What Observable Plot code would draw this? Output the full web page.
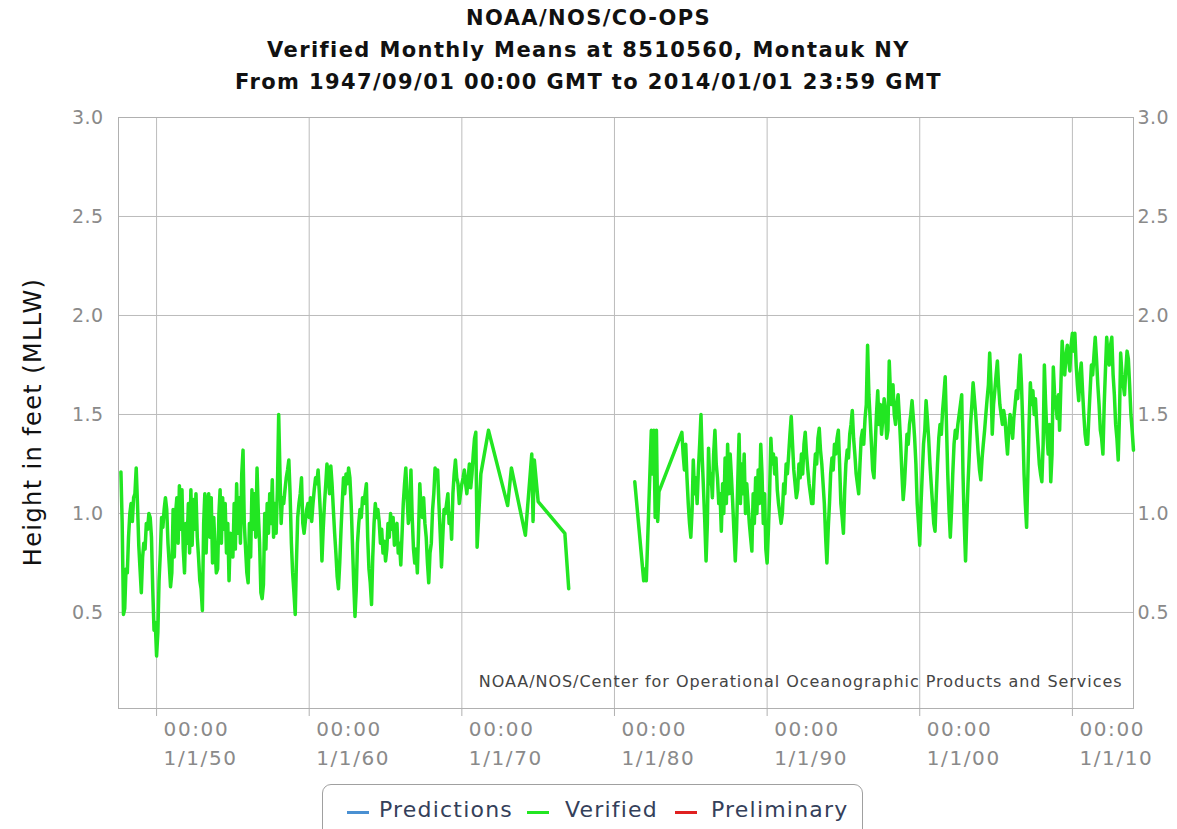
<!DOCTYPE html>
<html>
<head>
<meta charset="utf-8">
<script src="https://cdn.jsdelivr.net/npm/d3@7"></script>
<script src="https://cdn.jsdelivr.net/npm/@observablehq/plot@0.6"></script>
<style>
  body { margin: 0; background: #fff; font-family: "DejaVu Sans", sans-serif; }
  #wrap { position: relative; width: 1177px; height: 829px; overflow: hidden; background: #fff; }
  #title { position: absolute; left: 0; top: 2px; width: 1177px; text-align: center; font-weight: bold; font-size: 21px; letter-spacing: 1.4px; line-height: 32px; color: #111; }
  #chart { position: absolute; left: 0; top: 100px; }
  #legend { position: absolute; left: 322px; top: 784px; width: 541px; height: 56px; border: 1.5px solid #a0a0a0; border-radius: 9px; box-sizing: border-box; background: #fff; }
  .item { position: absolute; top: 12px; font-size: 22px; letter-spacing: 1.2px; color: #34405a; white-space: nowrap; }
  .sw { position: absolute; top: 26px; width: 22px; height: 3px; }
</style>
</head>
<body>
<div id="wrap">
  <div id="title">NOAA/NOS/CO-OPS<br>Verified Monthly Means at 8510560, Montauk NY<br>From 1947/09/01 00:00 GMT to 2014/01/01 23:59 GMT</div>
  <div id="chart"></div>
  <div id="legend"></div>
</div>
<script>
// ---- Data (feet, MLLW) ----
// Dense monthly record, starting 1947-09
const seriesAStart = [1947, 8]; // year, month index (0 = Jan)
const seriesAValues = [
  1.21, 0.95, 0.49, 0.52,
  0.72, 0.70, 0.88, 1.00, 1.05, 0.96, 1.08, 1.10, 1.23, 1.05, 0.84, 0.72,
  0.60, 0.78, 0.85, 0.82, 0.95, 0.92, 1.00, 0.98, 0.88, 0.62, 0.41, 0.45,
  0.28, 0.40, 0.66, 0.80, 0.98, 0.93, 1.02, 1.08, 1.02, 0.85, 0.74, 0.63,
  0.70, 1.02, 0.78, 1.00, 1.08, 0.85, 1.14, 0.92, 1.12, 0.82, 0.70, 0.95,
  0.85, 1.05, 0.80, 1.12, 0.84, 1.07, 0.92, 1.10, 0.88, 0.78, 0.66, 0.62,
  0.51, 0.95, 1.10, 0.80, 1.05, 1.10, 0.88, 1.08, 0.75, 0.98, 0.82, 0.70,
  0.72, 1.00, 1.12, 0.85, 1.08, 0.92, 1.05, 0.80, 0.95, 0.66, 0.90, 0.85,
  0.78, 1.05, 0.82, 1.15, 0.90, 1.08, 0.85, 1.20, 1.32, 0.95, 0.82, 0.70,
  0.65, 0.95, 0.78, 1.12, 0.92, 1.10, 0.88, 1.23, 1.00, 0.85, 0.60, 0.57,
  0.64, 1.00, 0.82, 1.05, 0.90, 1.10, 0.95, 1.17, 0.88, 1.05, 0.90, 1.12,
  1.50, 1.20, 0.95, 1.08, 1.05, 1.12, 1.18, 1.22, 1.27, 1.10, 0.85, 0.70,
  0.60, 0.49, 0.75, 0.98, 1.05, 1.10, 1.18, 0.95, 0.90, 0.96, 1.02, 1.05,
  0.98, 1.08, 0.96, 1.05, 1.12, 1.18, 1.15, 1.22, 1.10, 0.98, 0.76, 0.92,
  1.05, 1.15, 1.25, 1.20, 1.10, 1.24, 1.15, 1.02, 0.90, 0.80, 0.68, 0.62,
  0.75, 0.92, 1.05, 1.18, 1.10, 1.20, 1.15, 1.23, 1.18, 1.05, 0.85, 0.65,
  0.48, 0.62, 0.85, 0.95, 1.02, 0.98, 1.08, 1.05, 1.10, 1.15, 0.88, 0.72,
  0.65, 0.54, 0.78, 0.95, 1.05, 0.98, 1.02, 0.96, 0.85, 0.92, 0.80, 0.86,
  0.76, 0.82, 0.95, 0.88, 1.00, 0.92, 0.98, 0.84, 0.90, 0.95, 0.80, 0.85,
  0.74, 0.90, 1.05, 1.15, 1.23, 1.08, 0.95, 1.00, 1.22, 0.98, 0.82, 0.75,
  0.82, 0.70, 0.90, 1.15, 1.02, 0.98, 1.08, 0.95, 0.88, 0.75, 0.65, 0.80,
  0.85, 1.02, 1.10, 1.23, 1.18, 1.22, 1.05, 0.90, 0.73, 0.88, 1.02, 1.00,
  1.05, 1.10, 0.95, 1.00, 0.87, 1.10, 1.20, 1.27, 1.18, 1.15, 1.05, 1.10,
  1.15, 1.18, 1.22, 1.15, 1.10, 1.18, 1.25, 1.13, 1.20, 1.30, 1.38, 1.41
];
// Sparse months 1971-1984 (null = no data, line breaks)
const sparseMonths = ["1971-01","1971-04","1971-10","1973-01","1973-04","1974-03","1974-08","1974-09","1974-10","1975-01","1976-10","1977-01","1979-01","1981-05","1981-12","1982-01","1982-02","1982-06","1982-07","1982-08","1982-09","1982-10","1982-11","1982-12","1984-06"];
const sparseValues = [0.83, 1.20, 1.42, 1.04, 1.23, 0.89, 1.30, 0.96, 1.27, 1.06, 0.90, 0.62, null, 1.16, 0.66, 0.72, 0.66, 1.42, 1.20, 1.42, 0.98, 1.42, 0.96, 1.11, 1.41];
// Dense monthly record, starting 1984-07
const seriesBStart = [1984, 6];
const seriesBValues = [
  1.30, 1.22, 1.35, 1.18, 1.05, 0.95,
  0.88, 1.02, 1.27, 1.10, 1.18, 1.05, 1.22, 1.35, 1.50, 1.28, 1.12, 0.96,
  0.76, 0.95, 1.33, 1.15, 1.20, 1.08, 1.30, 1.42, 1.25, 1.18, 1.05, 1.10,
  0.91, 1.15, 1.00, 1.28, 1.05, 1.35, 1.10, 1.30, 1.18, 1.05, 0.90, 0.76,
  0.92, 1.18, 1.40, 1.05, 1.25, 1.10, 1.30, 1.00, 1.15, 1.05, 0.95, 0.88,
  0.81, 1.10, 0.95, 1.18, 1.00, 1.22, 1.05, 1.35, 1.20, 0.95, 1.10, 0.82,
  0.75, 0.92, 1.10, 1.38, 1.25, 1.30, 1.20, 1.28, 1.12, 1.05, 1.00, 0.95,
  1.00, 1.15, 1.10, 1.25, 1.20, 1.30, 1.40, 1.49, 1.35, 1.22, 1.15, 1.08,
  1.12, 1.25, 1.18, 1.30, 1.20, 1.35, 1.41, 1.30, 1.22, 1.15, 1.10, 1.05,
  1.05, 1.20, 1.30, 1.25, 1.38, 1.43, 1.32, 1.25, 1.15, 1.05, 0.88, 0.75,
  0.92, 1.05, 1.20, 1.28, 1.22, 1.35, 1.30, 1.38, 1.42, 1.25, 1.05, 0.98,
  0.90, 1.12, 1.25, 1.32, 1.28, 1.40, 1.45, 1.52, 1.38, 1.30, 1.20, 1.15,
  1.10, 1.25, 1.38, 1.42, 1.35, 1.48, 1.55, 1.85, 1.60, 1.48, 1.35, 1.22,
  1.18, 1.35, 1.50, 1.62, 1.45, 1.55, 1.40, 1.48, 1.58, 1.52, 1.38, 1.42,
  1.77, 1.60, 1.55, 1.65, 1.50, 1.45, 1.55, 1.60, 1.48, 1.35, 1.20, 1.07,
  1.15, 1.28, 1.40, 1.35, 1.45, 1.50, 1.57, 1.48, 1.38, 1.25, 1.05, 0.95,
  0.84, 1.05, 1.20, 1.35, 1.42, 1.57, 1.48, 1.38, 1.25, 1.15, 1.05, 0.95,
  0.91, 1.10, 1.25, 1.38, 1.45, 1.40, 1.52, 1.60, 1.69, 1.45, 1.20, 1.02,
  0.88, 1.02, 1.20, 1.35, 1.42, 1.38, 1.45, 1.50, 1.55, 1.60, 1.20, 0.95,
  0.76, 0.98, 1.15, 1.30, 1.45, 1.55, 1.66, 1.58, 1.50, 1.40, 1.30, 1.22,
  1.17, 1.28, 1.35, 1.42, 1.50, 1.58, 1.65, 1.81, 1.65, 1.40, 1.55, 1.62,
  1.70, 1.77, 1.65, 1.55, 1.50, 1.45, 1.52, 1.48, 1.38, 1.30, 1.42, 1.50,
  1.45, 1.38, 1.48, 1.55, 1.62, 1.58, 1.70, 1.80, 1.65, 1.45, 1.20, 1.05,
  0.93, 1.20, 1.45, 1.66, 1.55, 1.62, 1.50, 1.58, 1.45, 1.35, 1.25, 1.20,
  1.16, 1.35, 1.75, 1.55, 1.40, 1.30, 1.45, 1.16, 1.30, 1.74, 1.60, 1.55,
  1.48, 1.60, 1.42, 1.65, 1.87, 1.75, 1.70, 1.80, 1.85, 1.78, 1.72, 1.85,
  1.91, 1.82, 1.91, 1.75, 1.65, 1.57, 1.70, 1.76, 1.62, 1.50, 1.40, 1.35,
  1.35, 1.50, 1.62, 1.75, 1.70, 1.80, 1.89, 1.78, 1.65, 1.55, 1.42, 1.38,
  1.30, 1.55, 1.72, 1.89, 1.80, 1.75, 1.85, 1.89, 1.70, 1.60, 1.45, 1.38,
  1.27, 1.50, 1.81, 1.70, 1.65, 1.60, 1.72, 1.82, 1.78, 1.65, 1.50, 1.42,
  1.32
];
const yTicks = [0.5, 1.0, 1.5, 2.0, 2.5, 3.0];
const xTickYears = [1950, 1960, 1970, 1980, 1990, 2000, 2010];
const legendLabels = ["Predictions", "Verified", "Preliminary"];
const legendColors = ["#4a90d2", "#22e622", "#e02020"];
const caption = "NOAA/NOS/Center for Operational Oceanographic Products and Services";
const yLabel = "Height in feet (MLLW)";

// ---- Build table ----
const data = [];
seriesAValues.forEach((v, i) => data.push({date: new Date(Date.UTC(seriesAStart[0], seriesAStart[1] + i, 1)), value: v}));
sparseMonths.forEach((m, i) => {
  const [y, mo] = m.split("-").map(Number);
  data.push({date: new Date(Date.UTC(y, mo - 1, 1)), value: sparseValues[i]});
});
seriesBValues.forEach((v, i) => data.push({date: new Date(Date.UTC(seriesBStart[0], seriesBStart[1] + i, 1)), value: v}));

const xTicks = xTickYears.map(y => new Date(Date.UTC(y, 0, 1)));
const fmtX = d => "00:00\n1/1/" + String(d.getUTCFullYear() % 100).padStart(2, "0");

const chart = Plot.plot({
  width: 1177,
  height: 690,
  marginTop: 17,
  marginBottom: 82,
  marginLeft: 118,
  marginRight: 44,
  style: {fontFamily: "DejaVu Sans, sans-serif", background: "transparent", overflow: "visible"},
  x: {type: "utc", domain: [new Date(Date.UTC(1947, 6, 5)), new Date(Date.UTC(2014, 0, 2))]},
  y: {domain: [0.015, 3.0]},
  marks: [
    Plot.gridY(yTicks, {stroke: "#bcbcbc", strokeOpacity: 1}),
    Plot.gridX(xTicks, {stroke: "#bcbcbc", strokeOpacity: 1}),
    Plot.frame({stroke: "#b0b0b0"}),
    Plot.axisY(yTicks, {anchor: "left", tickSize: 0, tickPadding: 15, tickFormat: d3.format(".1f"), fontSize: 19, fill: "#8a8a8a", label: null}),
    Plot.axisY(yTicks, {anchor: "right", tickSize: 0, tickPadding: 4, tickFormat: d3.format(".1f"), fontSize: 19, fill: "#8a8a8a", label: null}),
    Plot.axisX(xTicks, {anchor: "bottom", tickSize: 8, stroke: "#b0b0b0", tickFormat: () => "", label: null}),
    Plot.axisX(xTicks, {anchor: "bottom", tickSize: 0, tickPadding: 7, tickFormat: fmtX, textAnchor: "start", dx: 7, lineHeight: 1.45, fontSize: 20, fill: "#8a8a8a", label: null}),
    Plot.line(data, {x: "date", y: "value", stroke: "#22e622", strokeWidth: 3.5, strokeLinejoin: "round"}),
    Plot.text([caption], {frameAnchor: "bottom-right", dx: -11, dy: -22, fontSize: 16, fill: "#444", textAnchor: "end"}),
    Plot.text([yLabel], {frameAnchor: "left", dx: -85, dy: 9, rotate: -90, fontSize: 24, fill: "#111", textAnchor: "middle"})
  ]
});
document.getElementById("chart").appendChild(chart);
// widen glyph spacing to match the reference's wide rendering
d3.select(chart).selectAll("text").each(function () {
  const t = this.textContent;
  let ls = null;
  if (t.startsWith("00:00")) ls = "1.6px";
  else if (/^\d\.\d$/.test(t)) ls = "0.4px";
  else if (t === caption) ls = "0.95px";
  else if (t === yLabel) ls = "1.4px";
  if (ls) this.setAttribute("letter-spacing", ls), this.style.letterSpacing = ls;
});

// ---- Legend ----
const legend = document.getElementById("legend");
const swX = [24, 204, 352];
const txtX = [56, 242, 388];
legendLabels.forEach((lab, i) => {
  const sw = document.createElement("div");
  sw.className = "sw"; sw.style.left = swX[i] + "px"; sw.style.background = legendColors[i];
  legend.appendChild(sw);
  const t = document.createElement("div");
  t.className = "item"; t.style.left = txtX[i] + "px"; t.textContent = lab;
  legend.appendChild(t);
});
</script>
</body>
</html>
